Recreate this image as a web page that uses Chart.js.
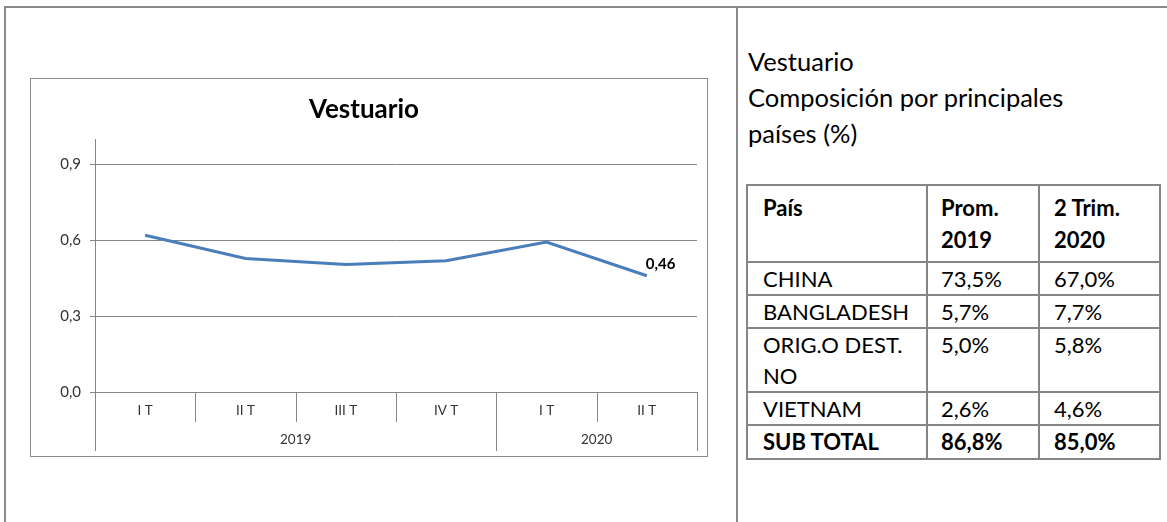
<!DOCTYPE html>
<html>
<head>
<meta charset="utf-8">
<script src="https://cdn.jsdelivr.net/npm/chart.js@4/dist/chart.umd.min.js"></script>
<style>
  body { margin: 0; width: 1167px; height: 522px; background: #fff; font-family: Lato, "Open Sans", sans-serif; position: relative; overflow: hidden; }
  .frame-top { position: absolute; left: 4px; top: 6px; width: 1163px; height: 2px; background: #8a8a8a; }
  .frame-left { position: absolute; left: 4px; top: 6px; width: 2px; height: 516px; background: #8a8a8a; }
  .frame-mid { position: absolute; left: 736px; top: 6px; width: 2px; height: 516px; background: #8a8a8a; }
  .chart-box { position: absolute; left: 30px; top: 78px; width: 676px; height: 377px; border: 1px solid #8c8c8c; }
  .note { position: absolute; left: 748px; top: 43px; font-size: 25.5px; line-height: 36px; color: #000; }
  table { position: absolute; left: 746px; top: 184px; border-collapse: collapse; font-size: 22px; color: #000; }
  td { border: 2px solid #858585; padding: 0 4px 0 15px; line-height: 31px; vertical-align: top; white-space: nowrap; }
  td.c1 { width: 159px; }
  td.c2 { width: 93px; padding-left: 13px; }
  td.c3 { width: 101px; padding-left: 14px; }
  tr.head td { padding-top: 6px; padding-bottom: 5px; line-height: 32px; }
  tr.sub td { font-weight: bold; line-height: 32px; }
  b { font-weight: bold; }
</style>
</head>
<body>
<div class="frame-top"></div>
<div class="frame-left"></div>
<div class="frame-mid"></div>

<div class="chart-box"><canvas id="chart" width="676" height="377"></canvas></div>

<div class="note">Vestuario<br>Composición por principales<br>países (%)</div>

<table id="countryTable">
  <tbody></tbody>
</table>

<script>
// chart data
const quarters = ['I T', 'II T', 'III T', 'IV T', 'I T', 'II T'];
const years = ['2019', '2020'];
const yearSpans = [4, 2];
const values = [0.62, 0.528, 0.504, 0.519, 0.593, 0.46];
const yTicks = [0, 0.3, 0.6, 0.9];

// table data
const tableHead = ['País', 'Prom.<br>2019', '2 Trim.<br>2020'];
const countries = ['CHINA', 'BANGLADESH', 'ORIG.O DEST.<br>NO', 'VIETNAM'];
const avg2019 = ['73,5%', '5,7%', '5,0%', '2,6%'];
const q2020 = ['67,0%', '7,7%', '5,8%', '4,6%'];
const subTotal = ['SUB TOTAL', '86,8%', '85,0%'];

const fmt = v => v.toFixed(1).replace('.', ',');
const FONT = 'Lato, "Open Sans", sans-serif';

function renderTable() {
    const tbody = document.querySelector('#countryTable tbody');
    let html = `<tr class="head">${tableHead.map((h, i) => `<td class="c${i + 1}"><b>${h}</b></td>`).join('')}</tr>`;
    html += countries.map((c, i) => `
        <tr><td class="c1">${c}</td><td class="c2">${avg2019[i]}</td><td class="c3">${q2020[i]}</td></tr>
    `).join('');
    html += `<tr class="sub">${subTotal.map((s, i) => `<td class="c${i + 1}">${s}</td>`).join('')}</tr>`;
    tbody.innerHTML = html;
}

// draws the quarter dividers, the year row and the last value label
const groupAxis = {
    id: 'groupAxis',
    afterDraw(chart) {
        const ctx = chart.ctx;
        const x = chart.scales.x;
        const top = x.top;
        const n = quarters.length;
        const edge = i => {
            if (i === 0) return x.left;
            if (i === n) return x.right;
            return (x.getPixelForTick(i - 1) + x.getPixelForTick(i)) / 2;
        };
        const groupEdges = [0];
        yearSpans.forEach(s => groupEdges.push(groupEdges[groupEdges.length - 1] + s));

        ctx.save();
        ctx.strokeStyle = '#868686';
        ctx.lineWidth = 1;
        for (let i = 0; i <= n; i++) {
            const px = Math.round(edge(i)) + 0.5;
            const long = groupEdges.includes(i);
            ctx.beginPath();
            ctx.moveTo(px, top);
            ctx.lineTo(px, top + (long ? 59 : 30));
            ctx.stroke();
        }

        ctx.fillStyle = '#333';
        ctx.font = '13.5px ' + FONT;
        ctx.textAlign = 'center';
        ctx.textBaseline = 'middle';
        years.forEach((y, g) => {
            const cx = (edge(groupEdges[g]) + edge(groupEdges[g + 1])) / 2;
            ctx.fillText(y, cx, top + 48);
        });

        // label on last point
        const meta = chart.getDatasetMeta(0);
        const last = meta.data[meta.data.length - 1];
        ctx.fillStyle = '#000';
        ctx.font = 'bold 15px ' + FONT;
        ctx.textAlign = 'left';
        ctx.fillText(values[values.length - 1].toFixed(2).replace('.', ','), last.x - 1, last.y - 12);
        ctx.restore();
    }
};

function initChart() {
    const ctx = document.getElementById('chart').getContext('2d');
    new Chart(ctx, {
        type: 'line',
        data: {
            labels: quarters,
            datasets: [{
                data: values,
                borderColor: '#4a7ebb',
                borderWidth: 3,
                pointRadius: 0,
                tension: 0,
                fill: false
            }]
        },
        options: {
            responsive: false,
            animation: false,
            layout: { padding: { left: 0, right: 10, top: 0, bottom: 0 } },
            plugins: {
                legend: { display: false },
                tooltip: { enabled: false },
                title: {
                    display: true,
                    text: 'Vestuario',
                    color: '#000',
                    font: { family: FONT, size: 26, weight: 'bold', lineHeight: 1.2 },
                    padding: { top: 15, bottom: 14 }
                }
            },
            scales: {
                x: {
                    offset: true,
                    grid: { display: false, drawTicks: false },
                    border: { display: true, color: '#868686', width: 1 },
                    ticks: {
                        color: '#333',
                        font: { family: FONT, size: 13.5 },
                        padding: 11,
                        maxRotation: 0,
                        autoSkip: false
                    },
                    afterFit: s => { s.height = 64; }
                },
                y: {
                    min: 0,
                    max: 1,
                    afterBuildTicks: s => { s.ticks = yTicks.map(v => ({ value: v })); },
                    grid: { color: '#868686', lineWidth: 1, tickLength: 5, drawTicks: true },
                    border: { display: true, color: '#868686', width: 1 },
                    ticks: {
                        color: '#333',
                        font: { family: FONT, size: 15 },
                        padding: 9,
                        callback: v => fmt(v)
                    },
                    afterFit: s => { s.width = 64; }
                }
            }
        },
        plugins: [groupAxis]
    });
}

renderTable();
initChart();
</script>
</body>
</html>
